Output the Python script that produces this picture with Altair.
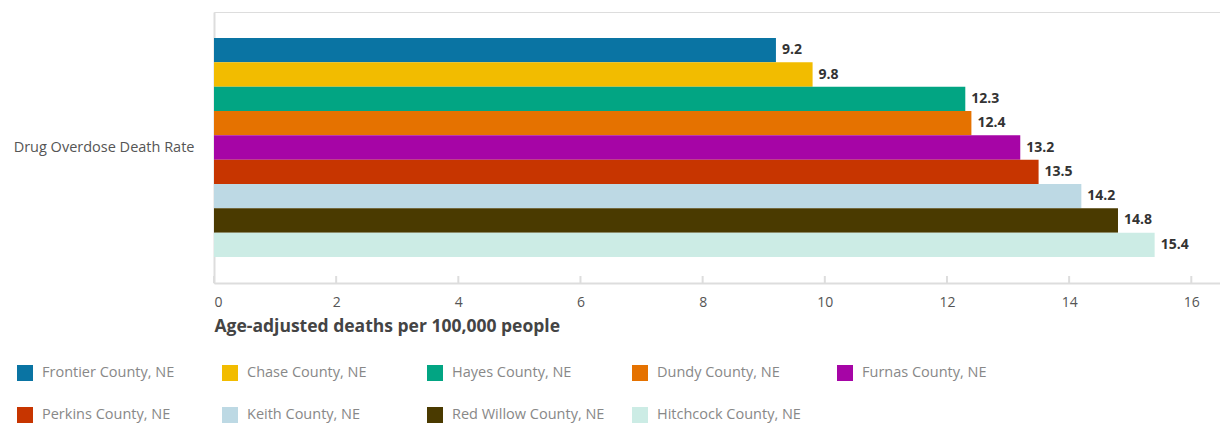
import altair as alt
import pandas as pd

counties = ["Frontier County, NE", "Chase County, NE", "Hayes County, NE", "Dundy County, NE",
            "Furnas County, NE", "Perkins County, NE", "Keith County, NE", "Red Willow County, NE",
            "Hitchcock County, NE"]
values = [9.2, 9.8, 12.3, 12.4, 13.2, 13.5, 14.2, 14.8, 15.4]
colors = ["#0A74A3", "#F2BC00", "#02A583", "#E57200", "#A605A6", "#C73500", "#BDD9E4", "#4A3A00", "#CCECE5"]
metric = "Drug Overdose Death Rate"
ticks = [0, 2, 4, 6, 8, 10, 12, 14, 16]

df = pd.DataFrame({"county": counties, "value": values, "metric": [metric] * len(counties),
                   "label": [f"{v:.1f}" for v in values]})
tick_df = pd.DataFrame({"t": ticks})

FONT = "Open Sans"
W, H = 1006, 271
xscale = alt.Scale(domain=[0, 16.47], nice=False, zero=True)

y_enc = alt.Y("metric:N", title=None,
              scale=alt.Scale(paddingInner=0, paddingOuter=0.119),
              axis=alt.Axis(ticks=False, labelPadding=20, labelFontSize=14.5, labelColor="#555",
                            labelFont=FONT, domainColor="#dddddd", domainWidth=2, labelLimit=300))
yoff = alt.YOffset("county:N", sort=counties, scale=alt.Scale(paddingInner=0, paddingOuter=0))

bars = alt.Chart(df).mark_bar().encode(
    x=alt.X("value:Q", scale=xscale, title="Age-adjusted deaths per 100,000 people",
            axis=alt.Axis(values=ticks, format="d", ticks=False, grid=False, labelPadding=12,
                          labelFontSize=14, labelColor="#555", labelFont=FONT,
                          domainColor="#dddddd", domainWidth=2,
                          titleFont=FONT, titleFontSize=17.5, titleFontWeight="bold", titleColor="#444",
                          titleAnchor="start", titleAlign="left", titlePadding=8)),
    y=y_enc,
    yOffset=yoff,
    color=alt.Color("county:N", sort=counties, scale=alt.Scale(domain=counties, range=colors),
                    legend=alt.Legend(title=None, orient="none", legendX=-197, legendY=353,
                                      direction="horizontal", columns=5, symbolType="square",
                                      symbolSize=256, symbolStrokeWidth=0, labelFontSize=14.5,
                                      labelColor="#888", labelFont=FONT, labelOffset=9,
                                      gridAlign="all", columnPadding=27, rowPadding=26,
                                      labelLimit=300)),
)

text = alt.Chart(df).mark_text(align="left", baseline="middle", dx=6, fontSize=14,
                               fontWeight="bold", color="#333", font=FONT).encode(
    x=alt.X("value:Q", scale=xscale),
    y=alt.Y("metric:N"),
    yOffset=yoff,
    text="label:N",
)

tick_rules = alt.Chart(tick_df).mark_rule(color="#dddddd", strokeWidth=2).encode(
    x=alt.X("t:Q", scale=xscale),
    y=alt.value(H - 7),
    y2=alt.value(H),
)

chart = alt.layer(bars, text, tick_rules).properties(
    width=W, height=H,
    autosize=alt.AutoSizeParams(type="none"),
    padding={"left": 214, "top": 12, "right": 0, "bottom": 145},
).configure_view(stroke=None).configure(background="white")

chart.save("out.html", embed_options={"renderer": "svg", "actions": False})
